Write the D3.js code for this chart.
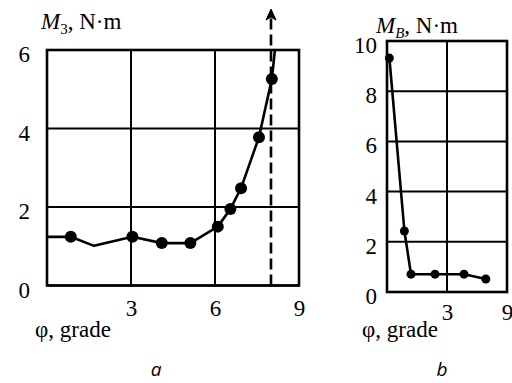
<!DOCTYPE html>
<html>
<head>
<meta charset="utf-8">
<script src="https://cdn.jsdelivr.net/npm/d3@7/dist/d3.min.js"></script>
<style>
  body { margin: 0; background: #fff; }
  svg { display: block; }
</style>
</head>
<body>
<svg id="chart" width="512" height="383"></svg>
<script>
// ============= Data =============

// panel a: M3 against φ, the curve runs off to the asymptote
const phiA = [0, 0.85, 1.68, 3.05, 4.1, 5.12, 6.1, 6.55, 6.93, 7.57, 8.03, 8.14];
const momentA = [1.24, 1.24, 1.01, 1.24, 1.08, 1.08, 1.5, 1.95, 2.48, 3.78, 5.26, 6];
const markedA = [false, true, false, true, true, true, true, true, true, true, true, false];
const asymptoteA = 8;
const xTicksA = [3, 6, 9];
const yTicksA = [0, 2, 4, 6];

// panel b: MB against φ
const phiB = [0.12, 0.87, 1.2, 2.4, 3.85, 4.94];
const momentB = [9.32, 2.43, 0.71, 0.71, 0.71, 0.52];
const xTicksB = [3, 6];
const xTickLabelsB = ["3", "9"];
const yTicksB = [0, 2, 4, 6, 8, 10];

// ============= Layout =============

const FONT = "Liberation Serif";
const FONT_SIZE = 23;
const INK = "#000";

const PANEL_A = {
  left: 47, right: 299, top: 50, bottom: 285.5,
  xDomain: [0, 9], yDomain: [0, 6],
  markerR: 6, xPad: 14, yPad: 17, titleX: 41, titleY: 29,
  symbol: "M", sub: "3", subItalic: false, phiX: 35, letter: "a", letterX: 156,
};

const PANEL_B = {
  left: 387, right: 507, top: 41, bottom: 292,
  xDomain: [0, 6], yDomain: [0, 10],
  markerR: 4.5, xPad: 12, yPad: 10, titleX: 376, titleY: 33,
  symbol: "M", sub: "B", subItalic: true, phiX: 362, letter: "b", letterX: 442,
};

const svg = d3.select("#chart");

/**
 * Builds the x/y scales of one panel
 */
const createScales = (cfg) => ({
  x: d3.scaleLinear().domain(cfg.xDomain).range([cfg.left, cfg.right]),
  y: d3.scaleLinear().domain(cfg.yDomain).range([cfg.bottom, cfg.top]),
});

/**
 * Serif text helper
 */
const styleText = (sel, size = FONT_SIZE) =>
  sel.attr("font-family", FONT).attr("font-size", size).attr("fill", INK);

/**
 * Grid lines and the heavy frame
 */
const renderGrid = (g, cfg, scales, xTicks, yTicks) => {
  g.selectAll(".vgrid")
    .data(xTicks)
    .enter()
    .append("line")
    .attr("x1", scales.x)
    .attr("x2", scales.x)
    .attr("y1", cfg.top)
    .attr("y2", cfg.bottom)
    .attr("stroke", INK)
    .attr("stroke-width", 2);

  g.selectAll(".hgrid")
    .data(yTicks)
    .enter()
    .append("line")
    .attr("x1", cfg.left)
    .attr("x2", cfg.right)
    .attr("y1", scales.y)
    .attr("y2", scales.y)
    .attr("stroke", INK)
    .attr("stroke-width", 2);

  g.append("rect")
    .attr("x", cfg.left)
    .attr("y", cfg.top)
    .attr("width", cfg.right - cfg.left)
    .attr("height", cfg.bottom - cfg.top)
    .attr("fill", "none")
    .attr("stroke", INK)
    .attr("stroke-width", 2.6);
};

/**
 * Tick labels, no tick marks or domain line
 */
const renderAxes = (g, cfg, scales, xTicks, yTicks, xLabels) => {
  const xAxis = d3.axisBottom(scales.x)
    .tickValues(xTicks)
    .tickSize(0)
    .tickPadding(cfg.xPad)
    .tickFormat((d, i) => (xLabels ? xLabels[i] : d3.format("d")(d)));
  const yAxis = d3.axisLeft(scales.y)
    .tickValues(yTicks)
    .tickSize(0)
    .tickPadding(cfg.yPad)
    .tickFormat(d3.format("d"));

  const xg = g.append("g").attr("transform", `translate(0,${cfg.bottom})`).call(xAxis);
  const yg = g.append("g").attr("transform", `translate(${cfg.left},0)`).call(yAxis);

  [xg, yg].forEach((axis) => {
    axis.select(".domain").remove();
    axis.attr("font-family", FONT).attr("font-size", FONT_SIZE);
    styleText(axis.selectAll("text"));
  });
  yg.selectAll("text").attr("dy", "0.5em");
};

/**
 * Axis titles and the panel letter
 */
const renderTitles = (g, cfg) => {
  const title = styleText(g.append("text"))
    .attr("x", cfg.titleX)
    .attr("y", cfg.titleY);
  title.append("tspan").attr("font-style", "italic").text(cfg.symbol);
  title.append("tspan")
    .attr("dy", 5)
    .attr("font-size", 15)
    .attr("font-style", cfg.subItalic ? "italic" : "normal")
    .text(cfg.sub);
  title.append("tspan").attr("dy", -5).text(", N·m");

  styleText(g.append("text"))
    .attr("x", cfg.phiX)
    .attr("y", 337)
    .text("φ, grade");

  g.append("text")
    .attr("x", cfg.letterX)
    .attr("y", 376)
    .attr("text-anchor", "middle")
    .attr("font-family", "Open Sans")
    .attr("font-style", "italic")
    .attr("font-size", 19)
    .attr("fill", INK)
    .text(cfg.letter);
};

/**
 * Polyline with filled dot markers
 */
const renderSeries = (g, cfg, scales, xs, ys, marked) => {
  const points = xs.map((x, i) => ({ x, y: ys[i], marked: marked ? marked[i] : true }));
  const line = d3.line().x((d) => scales.x(d.x)).y((d) => scales.y(d.y));

  g.append("path")
    .datum(points)
    .attr("d", line)
    .attr("fill", "none")
    .attr("stroke", INK)
    .attr("stroke-width", 2.6)
    .attr("stroke-linejoin", "round");

  g.selectAll(".dot")
    .data(points.filter((d) => d.marked))
    .enter()
    .append("circle")
    .attr("cx", (d) => scales.x(d.x))
    .attr("cy", (d) => scales.y(d.y))
    .attr("r", cfg.markerR)
    .attr("fill", INK);
};

/**
 * Dashed vertical asymptote with an arrow on top
 */
const renderAsymptote = (g, cfg, scales, value) => {
  const x = scales.x(value);
  const tipY = cfg.top - 41;

  g.append("line")
    .attr("x1", x)
    .attr("x2", x)
    .attr("y1", cfg.bottom)
    .attr("y2", tipY + 6)
    .attr("stroke", INK)
    .attr("stroke-width", 2.6)
    .attr("stroke-dasharray", "11,5");

  g.append("path")
    .attr("d", `M${x},${tipY} L${x + 5},${tipY + 11} L${x},${tipY + 8} L${x - 5},${tipY + 11} Z`)
    .attr("fill", INK)
    .attr("stroke", INK)
    .attr("stroke-width", 1);
};

// ============= Panels =============

const gA = svg.append("g");
const scalesA = createScales(PANEL_A);
renderGrid(gA, PANEL_A, scalesA, xTicksA, yTicksA);
renderAsymptote(gA, PANEL_A, scalesA, asymptoteA);
renderSeries(gA, PANEL_A, scalesA, phiA, momentA, markedA);
renderAxes(gA, PANEL_A, scalesA, xTicksA, yTicksA);
renderTitles(gA, PANEL_A);

const gB = svg.append("g");
const scalesB = createScales(PANEL_B);
renderGrid(gB, PANEL_B, scalesB, xTicksB, yTicksB);
renderSeries(gB, PANEL_B, scalesB, phiB, momentB);
renderAxes(gB, PANEL_B, scalesB, xTicksB, yTicksB, xTickLabelsB);
renderTitles(gB, PANEL_B);
</script>
</body>
</html>
